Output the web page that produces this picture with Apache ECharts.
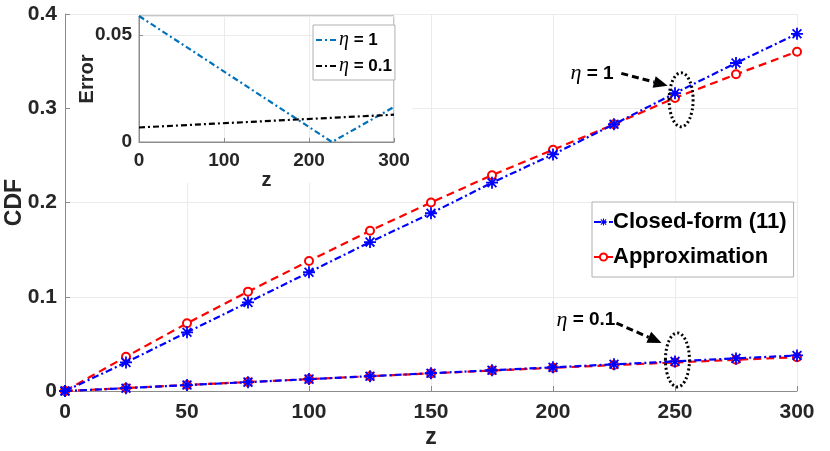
<!DOCTYPE html>
<html>
<head>
<meta charset="utf-8">
<script src="https://cdn.jsdelivr.net/npm/echarts@6/dist/echarts.min.js"></script>
<style>
  html, body { margin: 0; padding: 0; background: #fff; }
  #chart { width: 830px; height: 451px; }
</style>
</head>
<body>
<div id="chart"></div>
<script>
// main plot data
const zVals = [0, 25, 50, 75, 100, 125, 150, 175, 200, 225, 250, 275, 300];
const closedEta1 = [0, 0.0303, 0.0623, 0.094, 0.126, 0.158, 0.1886, 0.221, 0.251, 0.283, 0.316, 0.348, 0.379];
const approxEta1 = [0, 0.0364, 0.0718, 0.1054, 0.138, 0.170, 0.200, 0.229, 0.256, 0.283, 0.311, 0.336, 0.360];
const closedEta01 = [0, 0.003, 0.0063, 0.0094, 0.0126, 0.0157, 0.0189, 0.022, 0.0251, 0.0283, 0.0314, 0.0346, 0.0377];
const approxEta01 = [0, 0.0031, 0.0064, 0.0095, 0.0126, 0.0157, 0.0187, 0.0217, 0.0246, 0.0275, 0.0303, 0.0331, 0.0359];

// inset (error) data
const errZEta1 = [0, 227, 300];
const errEta1 = [0.059, 0, 0.0164];
const errZEta01 = [0, 300];
const errEta01 = [0.0068, 0.0128];

const pairs = (xs, ys) => xs.map((x, i) => [x, ys[i]]);

// MATLAB style '*' marker
const star = 'path://M8.5,0h3v20h-3z M0,8.5h20v3h-20z M1.6,3.7l2.1,-2.1l14.7,14.7l-2.1,2.1z M16.3,1.6l2.1,2.1l-14.7,14.7l-2.1,-2.1z';

const font = 'Liberation Sans, Arial, Helvetica, sans-serif';
const labelCol = '#262626';
const axisCol = '#8c8c8c';
const gridCol = '#ebebeb';

const chart = echarts.init(document.getElementById('chart'));

function closedSeries(data) {
    return {
        name: 'Closed-form (11)', type: 'line', xAxisIndex: 0, yAxisIndex: 0,
        data: pairs(zVals, data), symbol: star, symbolSize: 12,
        itemStyle: { color: '#0000ff' },
        lineStyle: { color: '#0000ff', width: 2.2, type: [7, 3, 2, 3] },
        z: 3, animation: false
    };
}
function approxSeries(data) {
    return {
        name: 'Approximation', type: 'line', xAxisIndex: 0, yAxisIndex: 0,
        data: pairs(zVals, data), symbol: 'emptyCircle', symbolSize: 8,
        itemStyle: { color: '#ff0000', borderWidth: 1.8 },
        lineStyle: { color: '#ff0000', width: 2.2, type: [8, 5] },
        z: 2, animation: false
    };
}

const option = {
    backgroundColor: '#fff',
    animation: false,
    textStyle: { fontFamily: font },
    grid: [
        { left: 65, right: 33, top: 14, bottom: 60, outerBoundsMode: 'none', containLabel: false },
        { left: 139, right: 436, top: 16, bottom: 309, outerBoundsMode: 'none', containLabel: false,
          show: true, borderColor: axisCol, borderWidth: 1, z: 4 }
    ],
    legend: [
        {
            data: ['Closed-form (11)', 'Approximation'],
            orient: 'vertical', left: 592, top: 202,
            padding: [9, 7, 9, 1], itemGap: 13, itemWidth: 19, itemHeight: 9,
            backgroundColor: '#fff', borderColor: '#b0b0b0', borderWidth: 1,
            textStyle: { fontSize: 22, fontWeight: 'bold', color: '#000', fontFamily: font, padding: [0, 0, 0, -5] },
            z: 10
        },
        {
            data: ['η = 1', 'η = 0.1'],
            orient: 'vertical', left: 313, top: 25,
            padding: [5, 3, 4, 2], itemGap: 6, itemWidth: 22, itemHeight: 10,
            backgroundColor: '#fff', borderColor: '#b0b0b0', borderWidth: 1,
            itemStyle: { opacity: 0 },
            formatter: name => name.replace('η', '{i|η}'),
            textStyle: {
                fontSize: 17, fontWeight: 'bold', color: '#000', fontFamily: font, padding: [0, 0, 0, -4],
                rich: { i: { fontFamily: 'Liberation Serif, serif', fontStyle: 'italic', fontWeight: 'normal', fontSize: 20 } }
            },
            z: 10
        }
    ],
    xAxis: [
        {
            gridIndex: 0, type: 'value', min: 0, max: 300, interval: 50,
            name: 'z', nameLocation: 'middle', nameGap: 35, nameMoveOverlap: false,
            nameTextStyle: { fontSize: 23, fontWeight: 'bold', color: labelCol },
            axisLine: { lineStyle: { color: axisCol } },
            axisTick: { inside: true, length: 5, lineStyle: { color: axisCol } },
            axisLabel: { fontSize: 21, fontWeight: 'bold', color: labelCol, margin: 11 },
            splitLine: { show: true, lineStyle: { color: gridCol } }
        },
        {
            gridIndex: 1, type: 'value', min: 0, max: 300, interval: 100,
            name: 'z', nameLocation: 'middle', nameGap: 28, nameMoveOverlap: false,
            nameTextStyle: { fontSize: 20, fontWeight: 'bold', color: labelCol },
            axisLine: { onZero: false, lineStyle: { color: axisCol } },
            axisTick: { inside: true, length: 4, lineStyle: { color: axisCol } },
            axisLabel: { fontSize: 19, fontWeight: 'bold', color: labelCol, margin: 9 },
            splitLine: { show: true, lineStyle: { color: gridCol } },
            z: 5
        }
    ],
    yAxis: [
        {
            gridIndex: 0, type: 'value', min: 0, max: 0.4, interval: 0.1,
            name: 'CDF', nameLocation: 'middle', nameGap: 39, nameMoveOverlap: false,
            nameTextStyle: { fontSize: 23, fontWeight: 'bold', color: labelCol },
            axisLine: { show: true, lineStyle: { color: axisCol } },
            axisTick: { show: true, inside: true, length: 5, lineStyle: { color: axisCol } },
            axisLabel: { fontSize: 21, fontWeight: 'bold', color: labelCol, margin: 8,
                formatter: v => String(+v.toFixed(1)) },
            splitLine: { show: true, lineStyle: { color: gridCol } }
        },
        {
            gridIndex: 1, type: 'value', min: 0, max: 0.059, interval: 0.05,
            name: 'Error', nameLocation: 'middle', nameGap: 42, nameMoveOverlap: false,
            nameTextStyle: { fontSize: 20, fontWeight: 'bold', color: labelCol },
            axisLine: { show: true, onZero: false, lineStyle: { color: axisCol } },
            axisTick: { show: true, inside: true, length: 4, lineStyle: { color: axisCol } },
            axisLabel: { fontSize: 19, fontWeight: 'bold', color: labelCol, margin: 7, showMaxLabel: false,
                formatter: v => String(+v.toFixed(2)) },
            splitLine: { show: true, lineStyle: { color: gridCol } },
            z: 5
        }
    ],
    series: [
        closedSeries(closedEta1),
        approxSeries(approxEta1),
        closedSeries(closedEta01),
        approxSeries(approxEta01),
        {
            name: 'η = 1', type: 'line', xAxisIndex: 1, yAxisIndex: 1,
            data: pairs(errZEta1, errEta1), symbol: 'none',
            itemStyle: { color: '#0072bd' },
            lineStyle: { color: '#0072bd', width: 2.2, type: [6, 3, 2, 3] }, z: 6
        },
        {
            name: 'η = 0.1', type: 'line', xAxisIndex: 1, yAxisIndex: 1,
            data: pairs(errZEta01, errEta01), symbol: 'none',
            itemStyle: { color: '#000' },
            lineStyle: { color: '#000', width: 2.2, type: [6, 3, 2, 3] }, z: 6
        }
    ]
};
chart.setOption(option);

// annotations placed in data coordinates of the main plot
const notes = [
    { text: '{i|η} = 1', at: [216, 0.337], from: [228, 0.337], to: [247, 0.324], ring: [252.5, 0.309] },
    { text: '{i|η} = 0.1', at: [213.5, 0.0753], from: [226, 0.072], to: [244.5, 0.051], ring: [251, 0.033] }
];
const toPx = p => chart.convertToPixel({ gridIndex: 0 }, p);
const graphics = [
    // white backing of the inset axes (covers main grid lines)
    { type: 'rect', shape: { x: 70, y: 15, width: 342, height: 168 }, style: { fill: '#fff' }, z: 3, silent: true }
];
notes.forEach(n => {
    const t = toPx(n.at), a = toPx(n.from), b = toPx(n.to), c = toPx(n.ring);
    const dx = b[0] - a[0], dy = b[1] - a[1];
    const len = Math.hypot(dx, dy), ux = dx / len, uy = dy / len;
    const hl = 14, hw = 6;
    const bx = b[0] - ux * hl, by = b[1] - uy * hl;
    graphics.push({
        type: 'text', x: t[0], y: t[1], z: 20,
        style: {
            text: n.text, align: 'center', verticalAlign: 'middle',
            font: 'bold 19px ' + font, fill: '#000',
            rich: { i: { fontFamily: 'Liberation Serif, serif', fontStyle: 'italic', fontWeight: 'normal', fontSize: 22 } }
        }
    });
    graphics.push({
        type: 'line', z: 20,
        shape: { x1: a[0], y1: a[1], x2: bx, y2: by },
        style: { stroke: '#000', lineWidth: 3, lineDash: [7, 4] }
    });
    graphics.push({
        type: 'polygon', z: 20,
        shape: { points: [[b[0], b[1]], [bx - uy * hw, by + ux * hw], [bx + uy * hw, by - ux * hw]] },
        style: { fill: '#000' }
    });
    graphics.push({
        type: 'ellipse', z: 20,
        shape: { cx: c[0], cy: c[1], rx: 12, ry: 27 },
        style: { fill: 'none', stroke: '#000', lineWidth: 3, lineDash: [2, 2.5] }
    });
});
chart.setOption({ graphic: graphics });
</script>
</body>
</html>
